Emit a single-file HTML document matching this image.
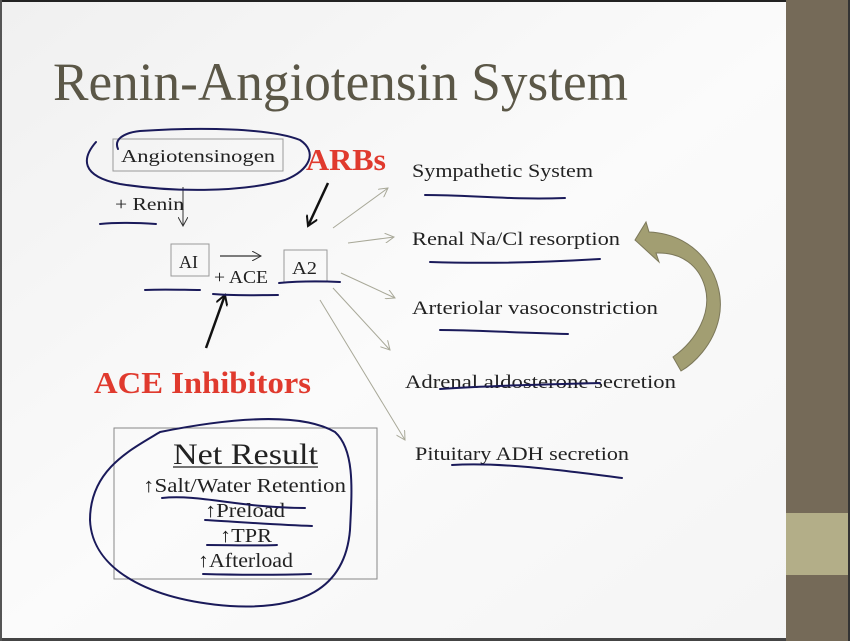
<!DOCTYPE html>
<html><head><meta charset="utf-8"><style>
html,body{margin:0;padding:0;}
body{width:850px;height:641px;overflow:hidden;background:#fff;}
svg{display:block}
</style></head><body>
<svg width="850" height="641" viewBox="0 0 850 641" xmlns="http://www.w3.org/2000/svg">
<defs>
<linearGradient id="bg" x1="0" y1="0" x2="1" y2="1">
<stop offset="0" stop-color="#f0f0f0"/><stop offset="0.5" stop-color="#fbfbfb"/><stop offset="1" stop-color="#f4f4f4"/>
</linearGradient>
<marker id="ga" markerWidth="10" markerHeight="10" refX="9" refY="5" orient="auto" markerUnits="userSpaceOnUse"><path d="M0,0 L9,5 L0,10" fill="none" stroke="#a8a898" stroke-width="1"/></marker>
<marker id="ka" markerWidth="12" markerHeight="12" refX="10" refY="6" orient="auto" markerUnits="userSpaceOnUse"><path d="M0,0 L10,6 L0,12" fill="none" stroke="#111" stroke-width="2"/></marker>
<marker id="ta" markerWidth="10" markerHeight="10" refX="9" refY="5" orient="auto" markerUnits="userSpaceOnUse"><path d="M0,0 L9,5 L0,10" fill="none" stroke="#333" stroke-width="1"/></marker>
</defs>
<rect width="850" height="641" fill="url(#bg)"/>
<rect x="0" y="0" width="850" height="2" fill="#222"/>
<rect x="0" y="638" width="850" height="3" fill="#444"/>
<rect x="0" y="0" width="2" height="641" fill="#555"/>
<rect x="786" y="0" width="62" height="641" fill="#756a58"/>
<rect x="786" y="513" width="62" height="62" fill="#b3ae88"/>
<rect x="848" y="0" width="2" height="641" fill="#333"/>

<text x="53" y="100" font-family="Liberation Serif, serif" font-size="54" fill="#5b5747" textLength="575" lengthAdjust="spacingAndGlyphs">Renin-Angiotensin System</text>

<g font-family="Liberation Serif, serif" fill="#222" lengthAdjust="spacingAndGlyphs">
<rect x="113" y="139" width="170" height="32" fill="none" stroke="#999" stroke-width="1"/>
<text x="121" y="162" font-size="18" textLength="154" lengthAdjust="spacingAndGlyphs">Angiotensinogen</text>
<text x="115" y="210" font-size="18" textLength="69" lengthAdjust="spacingAndGlyphs">+ Renin</text>
<line x1="183" y1="187" x2="183" y2="226" stroke="#333" stroke-width="1" marker-end="url(#ta)"/>
<rect x="171" y="244" width="38" height="32" fill="none" stroke="#999"/>
<text x="179" y="268" font-size="18">AI</text>
<line x1="220" y1="256" x2="261" y2="256" stroke="#333" stroke-width="1.2" marker-end="url(#ta)"/>
<text x="214" y="283" font-size="18" textLength="54" lengthAdjust="spacingAndGlyphs">+ ACE</text>
<rect x="284" y="250" width="43" height="32" fill="none" stroke="#999"/>
<text x="292" y="274" font-size="18" textLength="25" lengthAdjust="spacingAndGlyphs">A2</text>

<text x="412" y="177" font-size="19" textLength="181" lengthAdjust="spacingAndGlyphs">Sympathetic System</text>
<text x="412" y="245" font-size="19" textLength="208" lengthAdjust="spacingAndGlyphs">Renal Na/Cl resorption</text>
<text x="412" y="314" font-size="19" textLength="246" lengthAdjust="spacingAndGlyphs">Arteriolar vasoconstriction</text>
<text x="405" y="388" font-size="19" textLength="271" lengthAdjust="spacingAndGlyphs">Adrenal aldosterone secretion</text>
<text x="415" y="460" font-size="19" textLength="214" lengthAdjust="spacingAndGlyphs">Pituitary ADH secretion</text>

<rect x="114" y="428" width="263" height="151" fill="none" stroke="#888"/>
<text x="173" y="464" font-size="30" textLength="145" lengthAdjust="spacingAndGlyphs">Net Result</text>
<line x1="173" y1="467" x2="318" y2="467" stroke="#222" stroke-width="1.2"/>
<text x="143" y="492" font-size="20" textLength="203" lengthAdjust="spacingAndGlyphs">↑Salt/Water Retention</text>
<text x="205" y="517" font-size="20" textLength="80" lengthAdjust="spacingAndGlyphs">↑Preload</text>
<text x="220" y="542" font-size="20" textLength="52" lengthAdjust="spacingAndGlyphs">↑TPR</text>
<text x="198" y="567" font-size="20" textLength="95" lengthAdjust="spacingAndGlyphs">↑Afterload</text>
</g>

<g font-family="Liberation Serif, serif" font-weight="bold" fill="#e03a2e">
<text x="306" y="170" font-size="31" textLength="80" lengthAdjust="spacingAndGlyphs">ARBs</text>
<text x="94" y="393" font-size="31" textLength="217" lengthAdjust="spacingAndGlyphs">ACE Inhibitors</text>
</g>
<line x1="328" y1="183" x2="308" y2="226" stroke="#111" stroke-width="2.5" marker-end="url(#ka)"/>
<line x1="206" y1="348" x2="225" y2="295" stroke="#111" stroke-width="2.5" marker-end="url(#ka)"/>

<g stroke="#a8a898" stroke-width="1" fill="none">
<line x1="333" y1="228" x2="388" y2="188" marker-end="url(#ga)"/>
<line x1="348" y1="243" x2="394" y2="237" marker-end="url(#ga)"/>
<line x1="341" y1="273" x2="395" y2="298" marker-end="url(#ga)"/>
<line x1="333" y1="288" x2="390" y2="350" marker-end="url(#ga)"/>
<line x1="320" y1="300" x2="405" y2="440" marker-end="url(#ga)"/>
</g>

<path d="M635,240 L646,222 L649,232 C700,234 727,280 719,318 C713,346 693,364 681,371 L673,357 C697,340 712,312 705,287 C699,266 682,252 656,253 L659,262 Z" fill="#a29e72" stroke="#7c785a" stroke-width="1"/>

<g stroke="#1a1a5a" stroke-width="2" fill="none" stroke-linecap="round">
<path d="M96,142 C82,158 80,176 120,184 C170,192 240,193 285,180 C310,170 318,152 300,140 C270,128 200,127 140,131 C122,133 114,140 118,149"/>
<path d="M100,224 C120,222 140,223 156,224"/>
<path d="M145,290 C165,289 185,290 200,290"/>
<path d="M213,294 C235,296 258,295 278,295"/>
<path d="M279,283 C300,281 320,281 340,282"/>
<path d="M425,195 C470,195 510,200 565,198"/>
<path d="M430,262 C490,264 550,262 600,259"/>
<path d="M440,330 C470,330 500,332 568,334"/>
<path d="M440,389 C480,386 530,385 600,383"/>
<path d="M452,465 C500,462 560,470 622,478"/>
<path d="M160,432 C130,450 90,470 90,520 C92,570 150,600 230,606 C300,610 345,590 350,530 C352,490 355,450 335,432 C300,412 230,418 160,432"/>
<path d="M162,498 C200,494 240,508 305,508"/>
<path d="M205,520 C240,522 280,525 312,526"/>
<path d="M207,545 C230,545 260,546 277,545"/>
<path d="M203,574 C240,575 280,575 311,574"/>
</g>
</svg>
</body></html>
